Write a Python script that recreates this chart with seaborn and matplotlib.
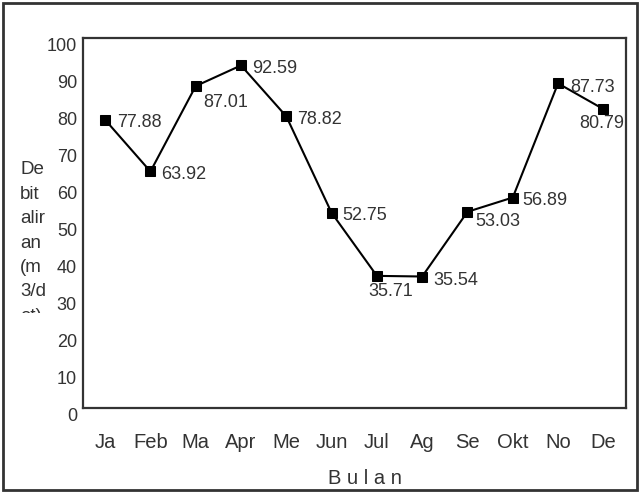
import matplotlib
matplotlib.use("Agg")
import matplotlib.pyplot as plt
from matplotlib.patches import Rectangle
from matplotlib.transforms import ScaledTranslation
import seaborn as sns
import pandas as pd

# data
bulan = ['Ja', 'Feb', 'Ma', 'Apr', 'Me', 'Jun', 'Jul', 'Ag', 'Se', 'Okt', 'No', 'De']
debit = [77.88, 63.92, 87.01, 92.59, 78.82, 52.75, 35.71, 35.54, 53.03, 56.89, 87.73, 80.79]
ylabel_lines = ['De', 'bit', 'alir', 'an', '(m', '3/d', 'et)']

# label offsets in pixels (dx, dy), text left-aligned
label_pos = [(12, -3), (11, -3), (8, -16), (11, -3), (11, -3), (11, -3),
             (-9, -16), (11, -4), (8, -10), (10, -3), (12, -4), (-24, -14)]

sns.set_style("white")
plt.rcParams['font.family'] = ['Liberation Sans', 'DejaVu Sans']
txt = '#333333'

df = pd.DataFrame({'idx': range(len(bulan)), 'debit': debit})

fig = plt.figure(figsize=(6.43, 4.92), dpi=100)
ax = fig.add_axes([82.5 / 643, 84 / 492, 543.5 / 643, 370 / 492])

sns.lineplot(data=df, x='idx', y='debit', ax=ax, color='black', linewidth=1.5,
             marker='s', markersize=6.5, markeredgecolor='black', markerfacecolor='black')

for i, v in enumerate(debit):
    dx, dy = label_pos[i]
    ax.annotate(f'{v:.2f}', (i, v), xytext=(dx, dy), textcoords='offset pixels',
                ha='left', va='center', fontsize=13, color=txt)

ax.set_xlim(-0.5, 11.5)
ax.set_ylim(0, 100)
ax.set_yticks(range(0, 101, 10))
ax.set_xticks(range(len(bulan)))
ax.set_xticklabels(bulan, fontsize=14.5, color=txt)
ax.set_xticks([i + 0.5 for i in range(11)], minor=True)
ax.tick_params(axis='x', which='major', length=0, pad=18)
ax.tick_params(axis='x', which='minor', direction='in', length=4, width=1, color=txt)
ax.tick_params(axis='y', which='major', direction='out', length=3, width=1, pad=1,
               labelsize=13, labelcolor=txt, color=txt)
# numbers sit a little below their tick in the original
shift = ScaledTranslation(0, -6.5 / 100, fig.dpi_scale_trans)
for lab in ax.get_yticklabels():
    lab.set_transform(lab.get_transform() + shift)

ax.set_xlabel('')
ax.set_ylabel('')
fig.text(364.5 / 643, (492 - 478) / 492, 'B u l a n', ha='center', va='center',
         fontsize=14.5, color=txt)
for s in ax.spines.values():
    s.set_visible(True)
    s.set_linewidth(1.6)
    s.set_color(txt)

# wrapped y label, last line cut off like the original
clip = Rectangle((15 / 643, (492 - 313) / 492), 40 / 643, 170 / 492, transform=fig.transFigure,
                 visible=False)
fig.add_artist(clip)
for k, line in enumerate(ylabel_lines):
    t = fig.text(20 / 643, (492 - 170 - 24.4 * k) / 492, line, ha='left', va='center',
                 fontsize=13.5, color=txt)
    t.set_clip_path(clip)

# outer frame
fig.add_artist(Rectangle((3 / 643, 2 / 492), 634 / 643, 487 / 492, transform=fig.transFigure,
                         fill=False, linewidth=2, edgecolor=txt))

fig.savefig('out.png', dpi=100)
